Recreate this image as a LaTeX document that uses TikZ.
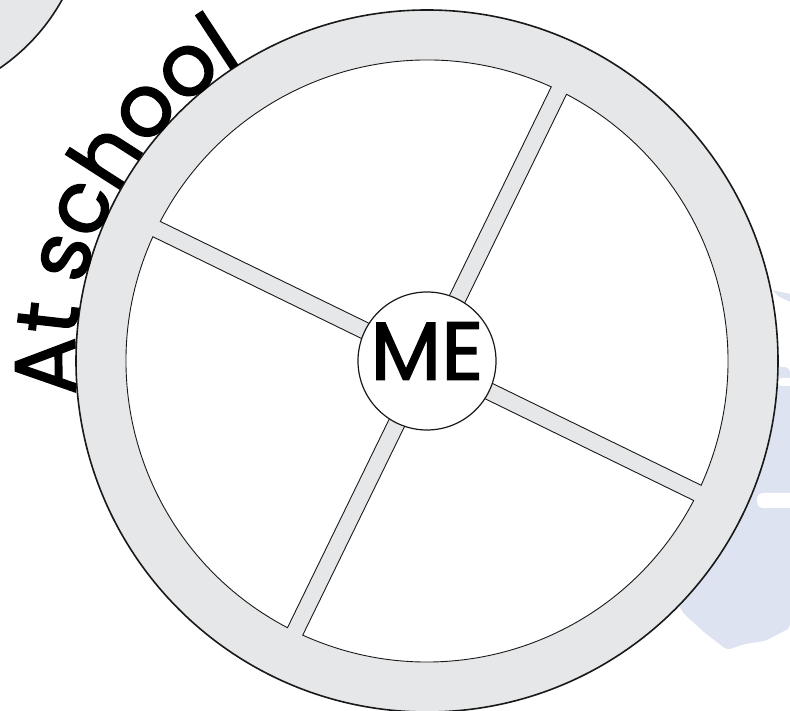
\documentclass[tikz,border=0pt]{standalone}
\usepackage{fontspec}
\newfontfamily\handfont[FakeBold=1.8]{Poppins}
\newfontfamily\labelfont[FakeBold=1.8,LetterSpace=-3]{Poppins}
\usetikzlibrary{decorations.text,calc}
\definecolor{ringgray}{HTML}{E6E7E8}
\definecolor{mapblue}{HTML}{DDE3F0}
\tikzset{
  ring/.style={fill=ringgray, draw=black!90, line width=1.6pt},
  sector/.style={fill=white, draw=black!90, line width=0.9pt},
  hubcircle/.style={circle, draw=black!90, fill=white, line width=1.2pt, minimum size=138pt, inner sep=0pt},
  mapshape/.style={fill=mapblue, draw=none}
}
\begin{document}
\begin{tikzpicture}[x=1pt,y=1pt]
\useasboundingbox (0,0) rectangle (790,711);
\coordinate (c) at (427,350);
% faint map shapes at the right edge
\fill[mapblue] (772,421) -- (790,417) -- (790,409) -- (778,415) -- cycle;
\path[mapshape, rounded corners=4pt] (790,343) -- (777,345) -- (745,331) -- (725,231) -- (700,151)
  -- (676,111) -- (683,98) -- (705,78) -- (727,61) -- (745,67) -- (765,70) -- (790,83) -- cycle;
\fill[white, rounded corners=3pt] (778,325) rectangle (795,333);
\fill[white, rounded corners=6pt] (757,203) rectangle (800,218);
% neighbouring ring at the top left
\draw[ring] (-113,808) circle (200);
% the wheel
\draw[ring] (c) circle (351);
\foreach \a in {-26,64,154,244} {
  \draw[sector] ($(c)+(\a+45:12.02)$) -- ($(c)+(\a+1.618:301)$)
    arc[start angle=\a+1.618, end angle=\a+88.382, radius=301] -- cycle;
}
\node[hubcircle] (me) at (c) {};
\node[inner sep=0pt] (metext) at ($(c)+(0,10)$) {\handfont\fontsize{82}{82}\selectfont ME};
% curved label
\path[decorate, decoration={text along path, text align=left,
    text format delimiters={|}{|},
    text={|\labelfont\fontsize{86}{86}\selectfont|At school}}]
  ($(c)+(185.5:352)$) arc[start angle=185.5, end angle=95, radius=352];
\end{tikzpicture}
\end{document}
